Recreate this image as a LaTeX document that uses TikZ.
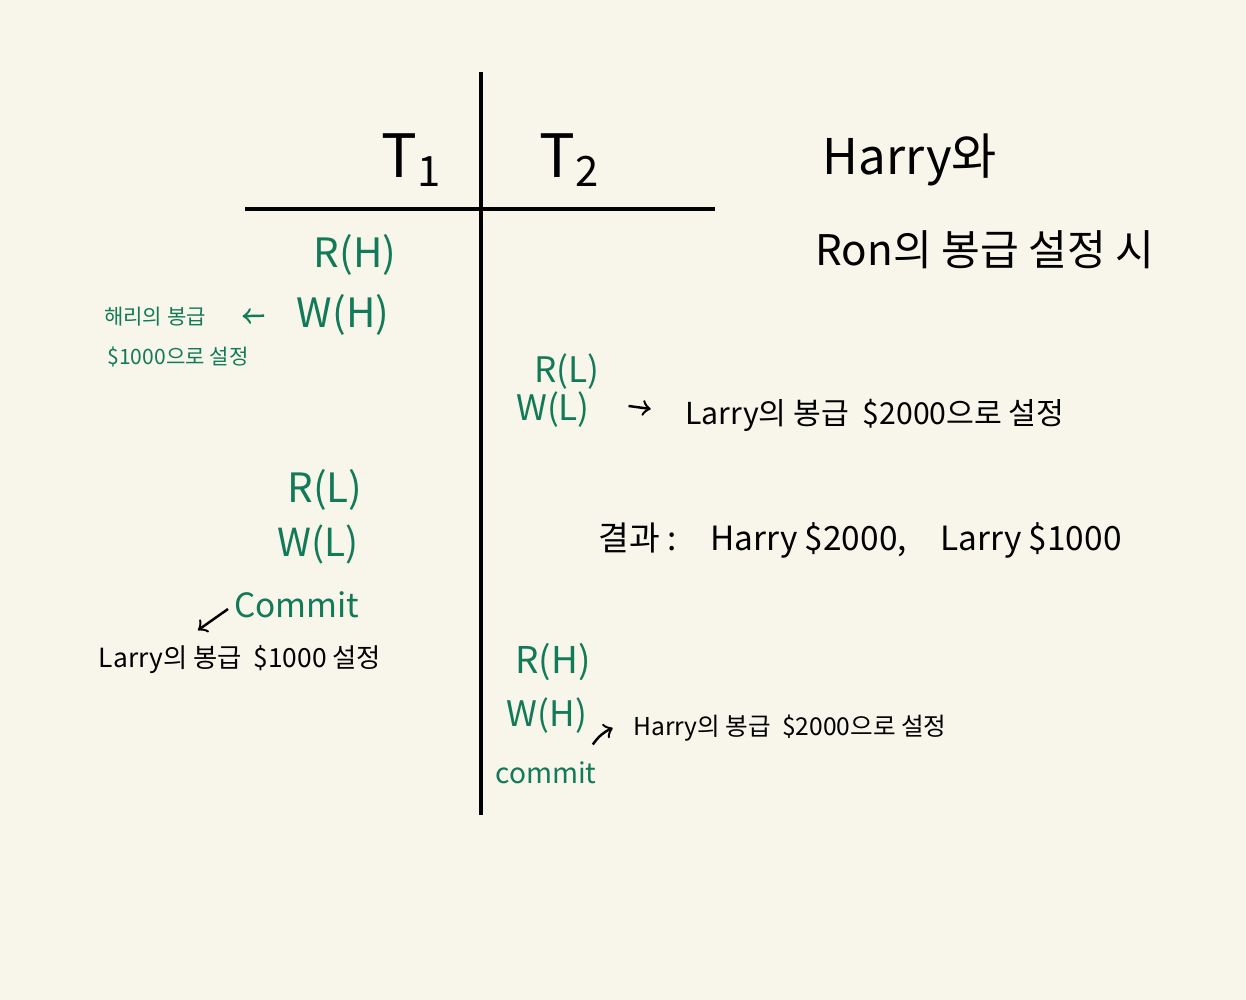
\documentclass[tikz,border=0pt]{standalone}
\usepackage{fontspec}
\usepackage{xcolor}
\usepackage{tikz}
\usetikzlibrary{positioning,calc}
\newfontfamily\kr{Noto Sans CJK KR}
\definecolor{paper}{RGB}{248,246,234}
\definecolor{opgreen}{RGB}{18,122,88}

\begin{document}
\begin{tikzpicture}[every node/.style={inner sep=0pt, font=\kr},
  op/.style={text=opgreen, font=\kr\fontsize{#1}{#1}\selectfont},
  op/.default=11.5,
  gnote/.style={text=opgreen, font=\kr\fontsize{6}{8}\selectfont},
  note/.style={font=\kr\fontsize{#1}{#1}\selectfont},
  head/.style={font=\kr\fontsize{17}{19}\selectfont},
  pen/.style={line width=0.7pt, ->}]
  \fill[paper] (0,0) rectangle (12.46,10);
  \useasboundingbox (0,0) rectangle (12.46,10);

  % schedule table
  \draw[line width=1.2pt] (4.81,9.28) -- (4.81,1.85);
  \draw[line width=1.2pt] (2.45,7.91) -- (7.15,7.91);
  \node[head] (t1) at (4.12,8.40) {T\textsubscript{1}};
  \node[head] (t2) at (5.70,8.40) {T\textsubscript{2}};

  \node[note=14] (title) at (9.10,8.40) {Harry와};
  \node[note=12] (title2) at (9.85,7.50) {Ron의 봉급 설정 시};

  % T1
  \node[op] (rh1) at (3.55,7.45) {R(H)};
  \node[op] (wh1) at (3.43,6.85) {W(H)};
  \node[gnote] (n1) at (1.55,6.83) {해리의 봉급};
  \node[gnote] (n1b) at (1.78,6.43) {\$1000으로 설정};
  \draw[pen, opgreen, shorten <=0.32cm, shorten >=0.36cm] (wh1.west) -- (n1.east);

  % T2
  \node[op=10] (rl2) at (5.67,6.28) {R(L)};
  \node[op=10] (wl2) at (5.53,5.90) {W(L)};
  \node[note=8.6] (n2) at (8.75,5.85) {Larry의 봉급 \ \$2000으로 설정};
  \draw[pen] ($(wl2.east)+(0.38,0.04)$) -- ($(n2.west)+(-0.34,0.06)$);

  % T1
  \node[op] (rl1) at (3.25,5.10) {R(L)};
  \node[op=11] (wl1) at (3.18,4.55) {W(L)};
  \node[op=9.5] (c1) at (2.97,3.95) {Commit};
  \node[note=7.5] (n3) at (2.40,3.40) {Larry의 봉급 \ \$1000 설정};
  \draw[pen, shorten <=0.07cm] (c1.west) -- ($(n3.north)+(-0.42,0.15)$);

  \node[note=9.5] (res) at (8.60,4.60) {결과 :\quad Harry \$2000,\quad Larry \$1000};

  % T2
  \node[op=10.5] (rh2) at (5.53,3.38) {R(H)};
  \node[op=10] (wh2) at (5.47,2.84) {W(H)};
  \node[op=8] (c2) at (5.46,2.27) {commit};
  \node[note=7] (n5) at (7.90,2.72) {Harry의 봉급 \ \$2000으로 설정};
  \draw[pen] ($(wh2.south east)+(0.05,-0.1)$) to[bend left=15] ($(n5.west)+(-0.2,0)$);
\end{tikzpicture}
\end{document}
